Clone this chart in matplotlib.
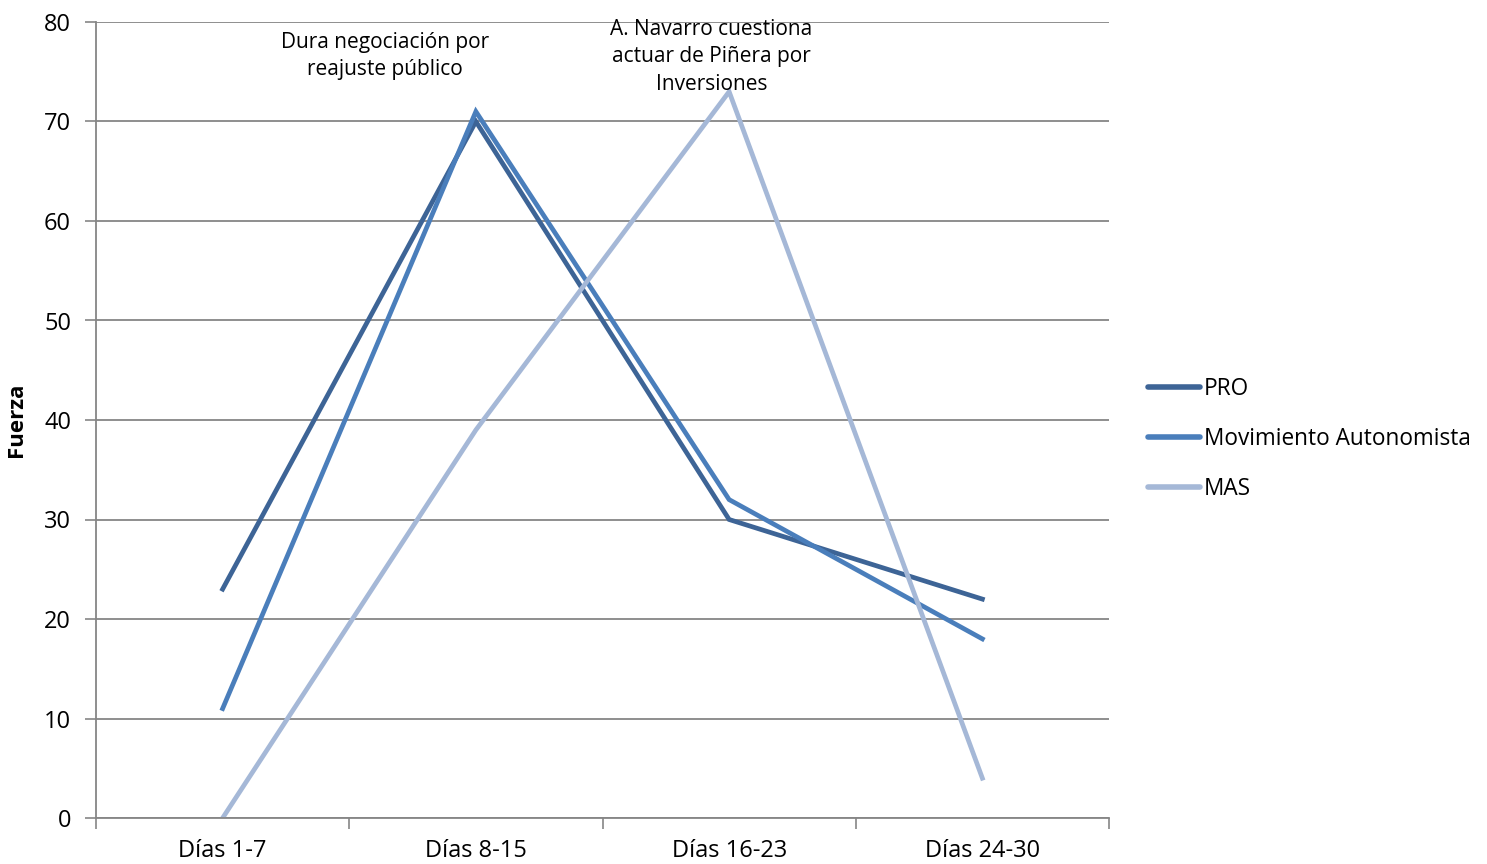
import matplotlib.pyplot as plt
import numpy as np

# chart data
categorias = ["Días 1-7", "Días 8-15", "Días 16-23", "Días 24-30"]
pro = [23, 70, 30, 22]
mov_autonomista = [11, 71, 32, 18]
mas = [0, 39, 73, 4]

plt.rcParams['font.family'] = ['Open Sans', 'DejaVu Sans']

fig = plt.figure(figsize=(14.87, 8.64), dpi=100)
ax = fig.add_axes([96/1487, 1 - 818/864, (1109-96)/1487, (818-22)/864])

x = np.arange(len(categorias))
ax.plot(x, pro, color='#3D6496', lw=3.4, label='PRO', solid_joinstyle='miter')
ax.plot(x, mov_autonomista, color='#4A7EBB', lw=3.4, label='Movimiento Autonomista', solid_joinstyle='miter')
ax.plot(x, mas, color='#A5B8D7', lw=3.4, label='MAS', solid_joinstyle='miter')

ax.set_xlim(-0.5, 3.5)
ax.set_ylim(0, 80)
ax.set_yticks(range(0, 81, 10))
ax.set_xticks(x)
ax.set_xticklabels(categorias)
ax.set_xticks(np.arange(-0.5, 3.6, 1), minor=True)
ax.tick_params(axis='x', which='major', length=0, pad=15, labelsize=17)
ax.tick_params(axis='x', which='minor', length=8, width=1.2, color='#868686', direction='out')
ax.tick_params(axis='y', length=8, width=1.2, color='#868686', direction='out', pad=10, labelsize=17)

ax.grid(axis='y', color='#868686', lw=1.3)
ax.set_axisbelow(True)
for s in ['top', 'right']:
    ax.spines[s].set_visible(False)
for s in ['left', 'bottom']:
    ax.spines[s].set_color('#868686')
    ax.spines[s].set_linewidth(1.3)

ax.set_ylabel('Fuerza', fontsize=16, fontweight='bold', labelpad=12)

# annotations
ax.text(0.64, 76.6, 'Dura negociación por\nreajuste público', ha='center', va='center',
        fontsize=15, linespacing=1.4)
ax.text(1.93, 76.5, 'A. Navarro cuestiona\nactuar de Piñera por\nInversiones', ha='center', va='center',
        fontsize=15, linespacing=1.4)

leg = fig.legend(loc='center left', bbox_to_anchor=(1128/1487, 1 - 439/864), frameon=False,
                 fontsize=16.3, handlelength=2.3, handletextpad=0.15, labelspacing=1.15)
for h in leg.get_lines():
    h.set_solid_capstyle('round')
    h.set_linewidth(4)

fig.savefig('out.png', dpi=100)
